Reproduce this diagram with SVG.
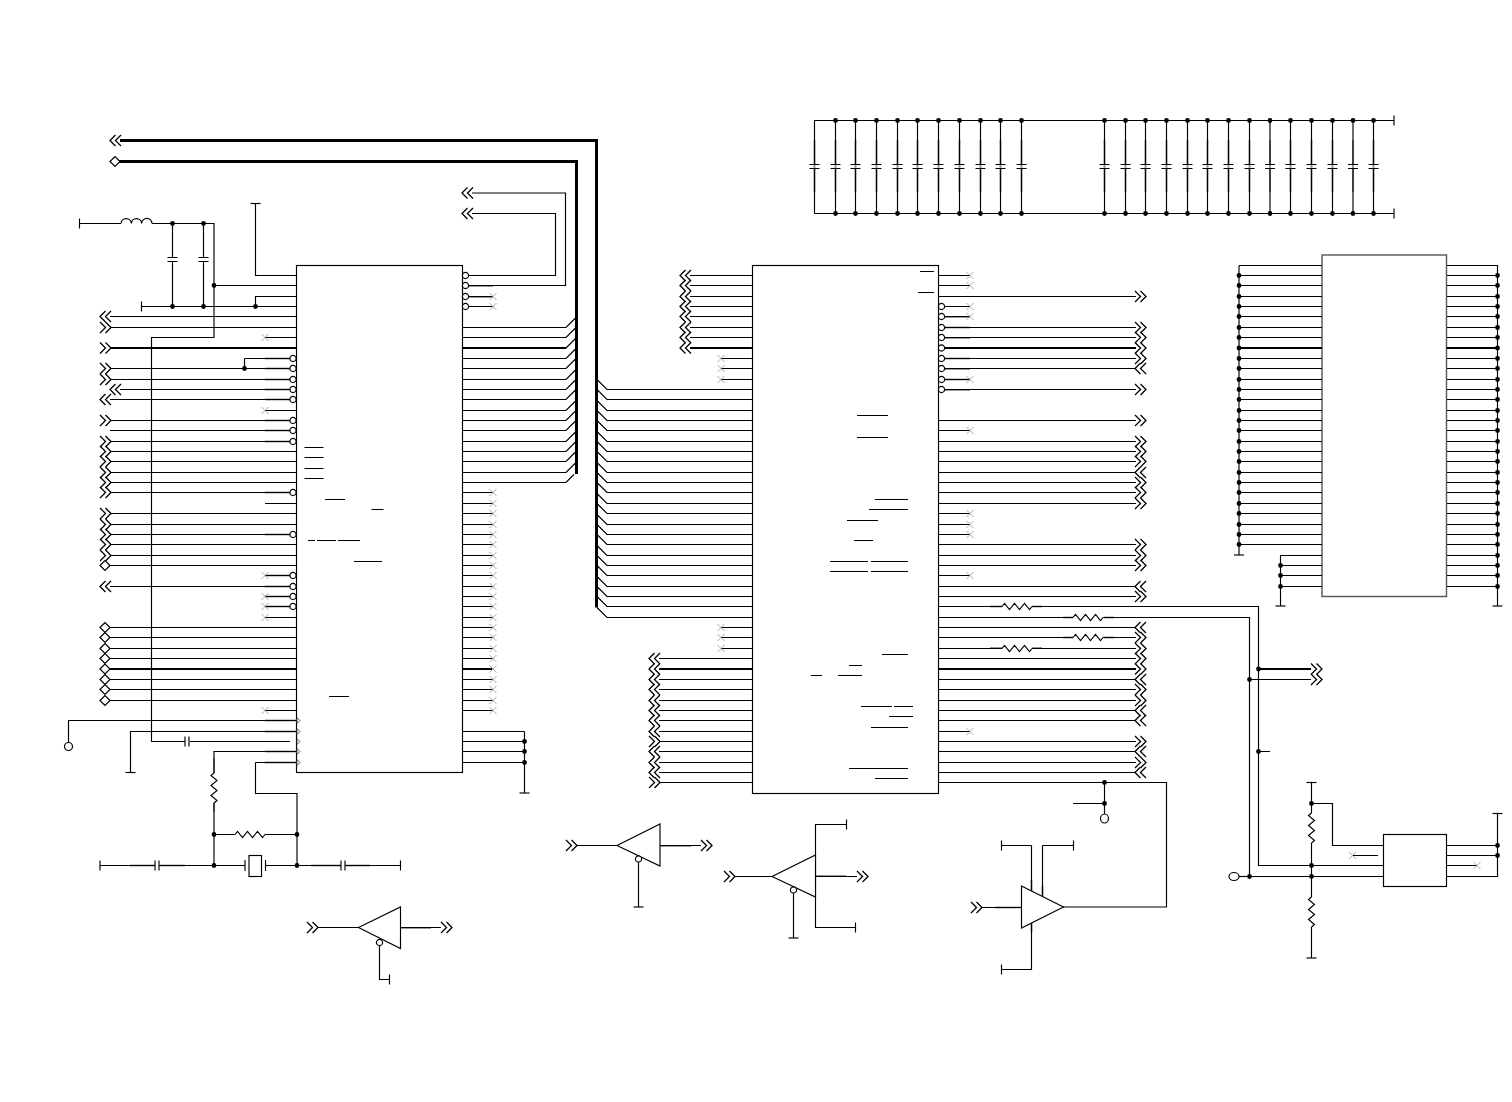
<svg xmlns="http://www.w3.org/2000/svg" width="1512" height="1102" viewBox="0 0 1512 1102">
<style>
path,rect,circle,ellipse{fill:none;stroke:#000;stroke-width:1.15}
.thick{stroke-width:2.2}
.bus{stroke-width:3}
.stub{stroke:#999;stroke-width:2}
.dots{stroke-width:4.8;stroke-linecap:round}
.box{fill:#fff}
.mem{fill:#fff;stroke:#555;stroke-width:1.4}
.x{stroke:#aaa;stroke-width:1}
.pin{fill:#fff;stroke:#000;stroke-width:1.2}
.tri{fill:#fff;stroke:#333;stroke-width:.8}
.chev{stroke-width:1.3}
</style>
<defs>
<path id="R" class="chev" d="M0-5.500 5.500 0 0 5.500M5.500-5.500 11 0 5.500 5.500"/>
<path id="L" class="chev" d="M5.500-5.500 0 0 5.500 5.500M11-5.500 5.500 0 11 5.500"/>
<path id="D" class="pin" d="M0 0 5-5 10 0 5 5Z"/>
<path id="X" class="x" d="M-3.500-3.500 3.500 3.500M-3.500 3.500 3.500-3.500"/>
<circle id="O" class="pin" r="3.100"/>
<path id="T" class="tri" d="M0-3 3 0 0 3Z"/>
<path id="RH" d="M0 0 2.500-3 7.500 3 12.500-3 17.500 3 22.500-3 27.500 3 30 0"/>
<path id="RV" d="M0 0-3 2.500 3 7.500-3 12.500 3 17.500-3 22.500 3 27.500 0 30"/>
<path id="CV" d="M-5 0H5M-5 4H5"/>
<path id="CH" d="M0-5V5M4-5V5"/>
<path id="TV" d="M0-5V5"/>
<path id="TH" d="M-5 0H5"/>
</defs>

<g id="ic-left"><rect class="box" x="296.500" y="265.500" width="166" height="507"/>
<path d="M304.500 447.500H323.500M304.500 457.500H323.500M304.500 468.500H323.500M304.500 478.500H323.500M325 499.500H345M371.500 509.500H383.500M308 540.500H315M317 540.500H336M338 540.500H360M354 561.500H382M329 696.500H349"/></g>
<g id="ic-right"><rect class="box" x="752.500" y="265.500" width="186" height="528"/>
<path d="M920 271.500H934M918 292.500H934M857 415.500H888M857 437.500H888M875 499.500H908M869 509.500H908M847 520.500H878M854 540.500H873M830 561.500H868M871 561.500H908M830 571.500H868M871 571.500H908M882 654.500H908M849 665.500H862M811 675.500H822M838 675.500H862M861 706.500H892M894 706.500H913M889 716.500H913M871 727.500H908M849 768.500H908M875 778.500H908"/></g>
<g id="ic-memory"><rect class="mem" x="1322" y="255" width="124.500" height="341.500"/></g>
<g id="ic-small"><rect class="box" x="1383.500" y="834.500" width="63" height="52"/></g>

<g id="connectors">
<path class="stub" d="M265 358.500H290M265 368.500H290M265 379.500H290M265 389.500H290M265 399.500H290M265 420.500H290M265 430.500H290M265 441.500H290M265 492.500H290M265 534.500H290M265 575.500H290M265 586.500H290M265 596.500H290M265 606.500H290M265 720.500H297M265 731.500H297M265 751.500H297M265 762.500H297M468 286H493M468 297H493M945 317H970M945 327.500H970M945 338H970M945 358.500H970M945 369H970M945 379.500H970M945 390H970M1063 617.500H1073M1104 617.500H1114M1063 637.500H1073M1104 637.500H1114M990 606.500H1002M1032 606.500H1042M990 648H1002M1032 648H1042"/>
<path class="stub" d="M400.500 928H431M660 846H691M815.500 876H846M995 907.500H1021M1031.500 880V892M1042.500 886V898M1031.500 922V932M214 758V773M214 803V812M130 865.500H155M160 865.500H185M311 865.500H341M346 865.500H370"/>
<path class="stub" d="M814.500 140V192M835.500 140V192M855.500 140V192M876.500 140V192M897.500 140V192M917.500 140V192M938.500 140V192M959.500 140V192M980.500 140V192M1000.500 140V192M1021.500 140V192M1104.500 140V192M1125.500 140V192M1145.500 140V192M1166.500 140V192M1187.500 140V192M1207.500 140V192M1228.500 140V192M1249.500 140V192M1270 140V192M1290.500 140V192M1311.500 140V192M1332.500 140V192M1353 140V192M1373.500 140V192"/>

<path class="bus" d="M120 140.500H596.500V607.500M118 161.500H576.500V474"/>
<path class="thick" d="M110 348H296M110 669H296M463 348H566M463 669H493M690 348H752M659 669H752M970 348H1136M945 348H970M938.500 669H1136M1239 348H1322M1446.500 348H1497.500M1259 669H1311"/>

<!-- filter network and supply -->
<path d="M79.500 223.500H121M152 223.500H214V337.500H151.500V741.500H185M190 741.500H290M172.500 223.500V257.500M172.500 262V306.500M203.500 223.500V257.500M203.500 262V306.500M141.500 306.500H296M214 285.500H296M255.500 203.500V275.500H296M255.500 306.500V296.500H296"/>
<path d="M121 223.500a5.170 5.170 0 0 1 10.330 0a5.170 5.170 0 0 1 10.330 0a5.170 5.170 0 0 1 10.340 0"/>

<!-- left IC, left side -->
<path d="M110 316.500H296M110 327.500H296M265 337.500H296M244.500 358.500H290M244.500 358.500V368.500M110 368.500H290M110 379.500H290M120 389.500H290M110 399.500H290M265 410.500H296M110 420.500H290M110 430.500H290M110 441.500H290M110 451.500H296M110 461.500H296M110 472.500H296M110 482.500H296M110 492.500H290M265 503.500H296M110 513.500H296M110 524.500H296M110 534.500H290M110 544.500H296M110 555.500H296M110 565.500H296M265 575.500H290M110 586.500H290M265 596.500H290M265 606.500H290M265 617.500H296M110 627.500H296M110 637.500H296M110 648.500H296M110 658.500H296M110 679.500H296M110 689.500H296M110 700.500H296M265 710.500H296"/>
<path d="M68.500 742V720.500H297M130.500 772.500V731.500H297M214 865.500V803M214 773V751.500H297M255.500 762.500H297M255.500 762.500V793.500H297V865.500M214 834.500H235M265 834.500H297"/>

<!-- left IC, right side -->
<path d="M468 275.500H555.500V213.500H472M468 285.500H565.500V193H472M468 296.500H493M468 306.500H493"/>
<path d="M463 327.500H566l10-10M463 337.500H566l10-10M566 348l10-10M463 358.500H566l10-10M463 368.500H566l10-10M463 379.500H566l10-10M463 389.500H566l10-10M463 399.500H566l10-10M463 410.500H566l10-10M463 420.500H566l10-10M463 430.500H566l10-10M463 441.500H566l10-10M463 451.500H566l10-10M463 461.500H566l10-10M463 472.500H566l10-10M463 482.500H566l8-8"/>
<path d="M463 492.500H493M463 503.500H493M463 513.500H493M463 524.500H493M463 534.500H493M463 544.500H493M463 555.500H493M463 565.500H493M463 575.500H493M463 586.500H493M463 596.500H493M463 606.500H493M463 617.500H493M463 627.500H493M463 637.500H493M463 648.500H493M463 658.500H493M463 679.500H493M463 689.500H493M463 700.500H493M463 710.500H493"/>
<path d="M463 731.500H524.500M463 741.500H524.500M463 751.500H524.500M463 762.500H524.500M524.500 731.500V793"/>

<!-- right IC, left side -->
<path d="M690 275.500H752M690 285.500H752M690 296.500H752M690 306.500H752M690 316.500H752M690 327.500H752M690 337.500H752M721 358.500H752M721 368.500H752M721 379.500H752"/>
<path d="M597 379.500l10 10H752M597 389.500l10 10H752M597 400.500l10 10H752M597 410.500l10 10H752M597 420.500l10 10H752M597 431.500l10 10H752M597 441.500l10 10H752M597 451.500l10 10H752M597 462.500l10 10H752M597 472.500l10 10H752M597 482.500l10 10H752M597 493.500l10 10H752M597 503.500l10 10H752M597 514.500l10 10H752M597 524.500l10 10H752M597 534.500l10 10H752M597 545.500l10 10H752M597 555.500l10 10H752M597 565.500l10 10H752M597 576.500l10 10H752M597 586.500l10 10H752M597 596.500l10 10H752M597 607.500l10 10H752"/>
<path d="M721 627.500H752M721 637.500H752M721 648.500H752M659 658.500H752M659 679.500H752M659 689.500H752M659 700.500H752M659 710.500H752M659 720.500H752M659 731.500H752M659 741.500H752M659 751.500H752M659 762.500H752M659 772.500H752M659 782.500H752"/>

<!-- right IC, right side -->
<path d="M939 275.500H970M939 285.500H970M939 296.500H1136M945 306.500H970M945 316.500H970M945 327.500H1136M945 337.500H1136M945 358.500H1136M945 368.500H1136M945 379.500H970M945 389.500H1136M939 420.500H1136M939 430.500H970M939 441.500H1136M939 451.500H1136M939 461.500H1136M939 472.500H1136M939 482.500H1136M939 492.500H1136M939 503.500H1136M939 513.500H970M939 524.500H970M939 534.500H970M939 544.500H1136M939 555.500H1136M939 565.500H1136M939 575.500H970M939 586.500H1136M939 596.500H1136"/>
<path d="M939 606.500H1002M1032 606.500H1258.500V865.500H1383M939 617.500H1073M1103 617.500H1249.500V876.500M1239 876.500H1383M939 627.500H1136M939 637.500H1073M1103 637.500H1136M939 648.500H1002M1032 648.500H1136M939 658.500H1136M939 679.500H1136M939 689.500H1136M939 700.500H1136M939 710.500H1136M939 720.500H1136M939 731.500H970M939 741.500H1136M939 751.500H1136M939 762.500H1136M939 772.500H1136M939 782.500H1166.500V907H1063M1104.500 782.500V814M1073 803.500H1104.500"/>
<path d="M1249.500 679.500H1311M1258.500 751.500H1270"/>

<!-- memory -->
<path d="M1239 265.500H1322M1239 265.500V555M1239 275.500H1322M1239 285.500H1322M1239 296.500H1322M1239 306.500H1322M1239 316.500H1322M1239 327.500H1322M1239 337.500H1322M1239 358.500H1322M1239 368.500H1322M1239 379.500H1322M1239 389.500H1322M1239 399.500H1322M1239 410.500H1322M1239 420.500H1322M1239 430.500H1322M1239 441.500H1322M1239 451.500H1322M1239 461.500H1322M1239 472.500H1322M1239 482.500H1322M1239 492.500H1322M1239 503.500H1322M1239 513.500H1322M1239 524.500H1322M1239 534.500H1322M1239 544.500H1322M1280.500 555.500H1322M1280.500 555.500V606M1280.500 565.500H1322M1280.500 575.500H1322M1280.500 586.500H1322"/>
<path d="M1447 265.500H1497.500V606M1447 275.500H1497M1447 285.500H1497M1447 296.500H1497M1447 306.500H1497M1447 316.500H1497M1447 327.500H1497M1447 337.500H1497M1447 358.500H1497M1447 368.500H1497M1447 379.500H1497M1447 389.500H1497M1447 399.500H1497M1447 410.500H1497M1447 420.500H1497M1447 430.500H1497M1447 441.500H1497M1447 451.500H1497M1447 461.500H1497M1447 472.500H1497M1447 482.500H1497M1447 492.500H1497M1447 503.500H1497M1447 513.500H1497M1447 524.500H1497M1447 534.500H1497M1447 544.500H1497M1447 555.500H1497M1447 565.500H1497M1447 575.500H1497M1447 586.500H1497"/>

<!-- small IC -->
<path d="M1311.500 782.500V813M1311.500 843V897M1311.500 927V958M1311.500 803.500H1332.500V845.500H1383M1352.500 855.500H1378M1447 845.500H1497.500M1447 855.500H1497.500M1447 865.500H1477M1447 876.500H1497.500V813.500"/>

<!-- decoupling rails -->
<path d="M814.500 120.500H1394M814.500 213.500H1394"/>
<path d="M814.500 120.500V164.500M814.500 168.500V213.500M835.500 120.500V164.500M835.500 168.500V213.500M855.500 120.500V164.500M855.500 168.500V213.500M876.500 120.500V164.500M876.500 168.500V213.500M897.500 120.500V164.500M897.500 168.500V213.500M917.500 120.500V164.500M917.500 168.500V213.500M938.500 120.500V164.500M938.500 168.500V213.500M959.500 120.500V164.500M959.500 168.500V213.500M980.500 120.500V164.500M980.500 168.500V213.500M1000.500 120.500V164.500M1000.500 168.500V213.500M1021.500 120.500V164.500M1021.500 168.500V213.500M1104.500 120.500V164.500M1104.500 168.500V213.500M1125.500 120.500V164.500M1125.500 168.500V213.500M1145.500 120.500V164.500M1145.500 168.500V213.500M1166.500 120.500V164.500M1166.500 168.500V213.500M1187.500 120.500V164.500M1187.500 168.500V213.500M1207.500 120.500V164.500M1207.500 168.500V213.500M1228.500 120.500V164.500M1228.500 168.500V213.500M1249.500 120.500V164.500M1249.500 168.500V213.500M1270 120.500V164.500M1270 168.500V213.500M1290.500 120.500V164.500M1290.500 168.500V213.500M1311.500 120.500V164.500M1311.500 168.500V213.500M1332.500 120.500V164.500M1332.500 168.500V213.500M1353 120.500V164.500M1353 168.500V213.500M1373.500 120.500V164.500M1373.500 168.500V213.500"/>

<!-- oscillator -->
<path d="M100 865.500H155M159 865.500H245M265.500 865.500H341M345 865.500H400.500"/>

<!-- buffers -->
<path d="M317 927.500H358.500M400.500 927.500H441M379.500 945.500V979.500H389.500"/>
<path d="M576 845.500H617M660 845.500H701M638.500 862.500V907"/>
<path d="M734 876.500H772M815 876.500H857M793.500 893.500V938M846.500 824.500H815.500V927.500H855.500"/>
<path d="M981 907.500H1021M1031.500 845.500H1001.500M1031.500 845.500V892M1042.500 845.500H1073.500M1042.500 845.500V898M1031.500 922V969.500H1001.500"/>

<!-- connection dots -->
<path class="dots" d="M172.500 223.500h0M203.500 223.500h0M214 285.500h0M172.500 306.500h0M203.500 306.500h0M255.500 306.500h0M244.500 368.500h0M214 834.500h0M297 834.500h0M214 865.500h0M297 865.500h0M524.500 741.500h0M524.500 751.500h0M524.500 762.500h0M1104.500 782.500h0M1104.500 803.500h0M1258.500 669h0M1249.500 679.500h0M1258.500 751.500h0M1311.500 803.500h0M1311.500 865.500h0M1249.500 876.500h0M1311.500 876.500h0M1497.500 845.500h0M1497.500 855.500h0
M835.500 120.500h0M855.500 120.500h0M876.500 120.500h0M897.500 120.500h0M917.500 120.500h0M938.500 120.500h0M959.500 120.500h0M980.500 120.500h0M1000.500 120.500h0M1021.500 120.500h0M1104.500 120.500h0M1125.500 120.500h0M1145.500 120.500h0M1166.500 120.500h0M1187.500 120.500h0M1207.500 120.500h0M1228.500 120.500h0M1249.500 120.500h0M1270 120.500h0M1290.500 120.500h0M1311.500 120.500h0M1332.500 120.500h0M1353 120.500h0M1373.500 120.500h0
M835.500 213.500h0M855.500 213.500h0M876.500 213.500h0M897.500 213.500h0M917.500 213.500h0M938.500 213.500h0M959.500 213.500h0M980.500 213.500h0M1000.500 213.500h0M1021.500 213.500h0M1104.500 213.500h0M1125.500 213.500h0M1145.500 213.500h0M1166.500 213.500h0M1187.500 213.500h0M1207.500 213.500h0M1228.500 213.500h0M1249.500 213.500h0M1270 213.500h0M1290.500 213.500h0M1311.500 213.500h0M1332.500 213.500h0M1353 213.500h0M1373.500 213.500h0
M1239 275.500h0M1239 285.500h0M1239 296.500h0M1239 306.500h0M1239 316.500h0M1239 327.500h0M1239 337.500h0M1239 348h0M1239 358.500h0M1239 368.500h0M1239 379.500h0M1239 389.500h0M1239 399.500h0M1239 410.500h0M1239 420.500h0M1239 430.500h0M1239 441.500h0M1239 451.500h0M1239 461.500h0M1239 472.500h0M1239 482.500h0M1239 492.500h0M1239 503.500h0M1239 513.500h0M1239 524.500h0M1239 534.500h0M1239 544.500h0M1280.500 565.500h0M1280.500 575.500h0M1280.500 586.500h0
M1497.500 275.500h0M1497.500 285.500h0M1497.500 296.500h0M1497.500 306.500h0M1497.500 316.500h0M1497.500 327.500h0M1497.500 337.500h0M1497.500 348h0M1497.500 358.500h0M1497.500 368.500h0M1497.500 379.500h0M1497.500 389.500h0M1497.500 399.500h0M1497.500 410.500h0M1497.500 420.500h0M1497.500 430.500h0M1497.500 441.500h0M1497.500 451.500h0M1497.500 461.500h0M1497.500 472.500h0M1497.500 482.500h0M1497.500 492.500h0M1497.500 503.500h0M1497.500 513.500h0M1497.500 524.500h0M1497.500 534.500h0M1497.500 544.500h0M1497.500 555.500h0M1497.500 565.500h0M1497.500 575.500h0M1497.500 586.500h0"/>
</g>

<g id="terminals">
<use href="#L" x="110" y="140.500"/><use href="#D" x="110" y="161.500"/>
<use href="#L" x="462" y="193"/><use href="#L" x="462" y="213.500"/>
<use href="#L" x="100" y="316.500"/><use href="#R" x="100" y="327.500"/><use href="#R" x="100" y="348"/><use href="#R" x="100" y="368.500"/><use href="#R" x="100" y="379.500"/><use href="#L" x="110" y="389.500"/><use href="#L" x="100" y="399.500"/><use href="#R" x="100" y="420.500"/><use href="#R" x="100" y="441.500"/><use href="#R" x="100" y="451.500"/><use href="#R" x="100" y="461.500"/><use href="#R" x="100" y="472.500"/><use href="#R" x="100" y="482.500"/><use href="#R" x="100" y="492.500"/><use href="#R" x="100" y="513.500"/><use href="#R" x="100" y="524.500"/><use href="#R" x="100" y="534.500"/><use href="#R" x="100" y="544.500"/><use href="#R" x="100" y="555.500"/><use href="#D" x="100" y="565.500"/><use href="#L" x="100" y="586.500"/>
<use href="#D" x="100" y="627.500"/><use href="#D" x="100" y="637.500"/><use href="#D" x="100" y="648.500"/><use href="#D" x="100" y="658.500"/><use href="#D" x="100" y="669"/><use href="#D" x="100" y="679.500"/><use href="#D" x="100" y="689.500"/><use href="#D" x="100" y="700.500"/>

<use href="#L" x="680" y="275.500"/><use href="#L" x="680" y="285.500"/><use href="#L" x="680" y="296.500"/><use href="#L" x="680" y="306.500"/><use href="#L" x="680" y="316.500"/><use href="#L" x="680" y="327.500"/><use href="#L" x="680" y="337.500"/><use href="#L" x="680" y="348"/>
<use href="#L" x="649" y="658.500"/><use href="#L" x="649" y="669"/><use href="#L" x="649" y="679.500"/><use href="#L" x="649" y="689.500"/><use href="#L" x="649" y="700.500"/><use href="#L" x="649" y="710.500"/><use href="#L" x="649" y="720.500"/><use href="#L" x="649" y="731.500"/><use href="#R" x="649" y="741.500"/><use href="#L" x="649" y="751.500"/><use href="#L" x="649" y="762.500"/><use href="#L" x="649" y="772.500"/><use href="#R" x="649" y="782.500"/>

<use href="#R" x="1135" y="296.500"/><use href="#R" x="1135" y="327.500"/><use href="#R" x="1135" y="337.500"/><use href="#R" x="1135" y="348"/><use href="#R" x="1135" y="358.500"/><use href="#L" x="1135" y="368.500"/><use href="#R" x="1135" y="389.500"/><use href="#R" x="1135" y="420.500"/><use href="#R" x="1135" y="441.500"/><use href="#R" x="1135" y="451.500"/><use href="#R" x="1135" y="461.500"/><use href="#L" x="1135" y="472.500"/><use href="#R" x="1135" y="482.500"/><use href="#R" x="1135" y="492.500"/><use href="#R" x="1135" y="503.500"/><use href="#R" x="1135" y="544.500"/><use href="#R" x="1135" y="555.500"/><use href="#R" x="1135" y="565.500"/><use href="#L" x="1135" y="586.500"/><use href="#R" x="1135" y="596.500"/><use href="#L" x="1135" y="627.500"/><use href="#R" x="1135" y="637.500"/><use href="#R" x="1135" y="648.500"/><use href="#R" x="1135" y="658.500"/><use href="#R" x="1135" y="669"/><use href="#L" x="1135" y="679.500"/><use href="#R" x="1135" y="689.500"/><use href="#R" x="1135" y="700.500"/><use href="#L" x="1135" y="710.500"/><use href="#L" x="1135" y="720.500"/><use href="#R" x="1135" y="741.500"/><use href="#L" x="1135" y="751.500"/><use href="#R" x="1135" y="762.500"/><use href="#L" x="1135" y="772.500"/>
<use href="#R" x="1311" y="669"/><use href="#R" x="1311" y="679.500"/>
<use href="#R" x="307" y="927.500"/><use href="#R" x="441" y="927.500"/><use href="#R" x="566" y="845.500"/><use href="#R" x="701" y="845.500"/><use href="#R" x="724" y="876.500"/><use href="#R" x="857" y="876.500"/><use href="#R" x="971" y="907.500"/>
</g>

<g id="no-connects">
<use href="#X" x="265" y="337.500"/><use href="#X" x="265" y="410.500"/><use href="#X" x="265" y="575.500"/><use href="#X" x="265" y="596.500"/><use href="#X" x="265" y="606.500"/><use href="#X" x="265" y="617.500"/><use href="#X" x="265" y="710.500"/>
<use href="#X" x="493" y="296.500"/><use href="#X" x="493" y="306.500"/>
<use href="#X" x="493" y="492.500"/><use href="#X" x="493" y="503.500"/><use href="#X" x="493" y="513.500"/><use href="#X" x="493" y="524.500"/><use href="#X" x="493" y="534.500"/><use href="#X" x="493" y="544.500"/><use href="#X" x="493" y="555.500"/><use href="#X" x="493" y="565.500"/><use href="#X" x="493" y="575.500"/><use href="#X" x="493" y="586.500"/><use href="#X" x="493" y="596.500"/><use href="#X" x="493" y="606.500"/><use href="#X" x="493" y="617.500"/><use href="#X" x="493" y="627.500"/><use href="#X" x="493" y="637.500"/><use href="#X" x="493" y="648.500"/><use href="#X" x="493" y="658.500"/><use href="#X" x="493" y="669"/><use href="#X" x="493" y="679.500"/><use href="#X" x="493" y="689.500"/><use href="#X" x="493" y="700.500"/><use href="#X" x="493" y="710.500"/>
<use href="#X" x="721" y="358.500"/><use href="#X" x="721" y="368.500"/><use href="#X" x="721" y="379.500"/><use href="#X" x="721" y="627.500"/><use href="#X" x="721" y="637.500"/><use href="#X" x="721" y="648.500"/>
<use href="#X" x="970" y="275.500"/><use href="#X" x="970" y="285.500"/><use href="#X" x="970" y="306.500"/><use href="#X" x="970" y="316.500"/><use href="#X" x="970" y="379.500"/><use href="#X" x="970" y="430.500"/><use href="#X" x="970" y="513.500"/><use href="#X" x="970" y="524.500"/><use href="#X" x="970" y="534.500"/><use href="#X" x="970" y="575.500"/><use href="#X" x="970" y="731.500"/>
<use href="#X" x="1352.500" y="855.500"/><use href="#X" x="1477" y="865.500"/>
</g>

<g id="pin-bubbles">
<use href="#O" x="293" y="358.500"/><use href="#O" x="293" y="368.500"/><use href="#O" x="293" y="379.500"/><use href="#O" x="293" y="389.500"/><use href="#O" x="293" y="399.500"/><use href="#O" x="293" y="420.500"/><use href="#O" x="293" y="430.500"/><use href="#O" x="293" y="441.500"/><use href="#O" x="293" y="492.500"/><use href="#O" x="293" y="534.500"/><use href="#O" x="293" y="575.500"/><use href="#O" x="293" y="586.500"/><use href="#O" x="293" y="596.500"/><use href="#O" x="293" y="606.500"/>
<use href="#O" x="465.500" y="275.500"/><use href="#O" x="465.500" y="285.500"/><use href="#O" x="465.500" y="296.500"/><use href="#O" x="465.500" y="306.500"/>
<use href="#O" x="941.500" y="306.500"/><use href="#O" x="941.500" y="316.500"/><use href="#O" x="941.500" y="327.500"/><use href="#O" x="941.500" y="337.500"/><use href="#O" x="941.500" y="348"/><use href="#O" x="941.500" y="358.500"/><use href="#O" x="941.500" y="368.500"/><use href="#O" x="941.500" y="379.500"/><use href="#O" x="941.500" y="389.500"/>
<use href="#T" x="297" y="720.500"/><use href="#T" x="297" y="731.500"/><use href="#T" x="297" y="741.500"/><use href="#T" x="297" y="751.500"/><use href="#T" x="297" y="762.500"/>
</g>

<g id="tees">
<use href="#TV" x="79.500" y="223.500"/><use href="#TH" x="255.500" y="203.500"/><use href="#TV" x="141.500" y="306.500"/><use href="#TH" x="130.500" y="772.500"/><use href="#TH" x="524.500" y="793"/>
<use href="#TV" x="100" y="865.500"/><use href="#TV" x="400.500" y="865.500"/>
<use href="#TV" x="389.500" y="979.500"/><use href="#TH" x="638.500" y="907"/><use href="#TH" x="793.500" y="938"/><use href="#TV" x="846.500" y="824.500"/><use href="#TV" x="855.500" y="927.500"/>
<use href="#TV" x="1001.500" y="845.500"/><use href="#TV" x="1073.500" y="845.500"/><use href="#TV" x="1001.500" y="969.500"/>
<use href="#TV" x="1394" y="120.500"/><use href="#TV" x="1394" y="213.500"/>
<use href="#TH" x="1239" y="555"/><use href="#TH" x="1280.500" y="606"/><use href="#TH" x="1497.500" y="606"/>
<use href="#TH" x="1311.500" y="782.500"/><use href="#TH" x="1311.500" y="958"/><use href="#TH" x="1497.500" y="813.500"/>
</g>

<g id="capacitors">
<use href="#CV" x="172.500" y="257.500"/><use href="#CV" x="203.500" y="257.500"/><use href="#CH" x="185" y="741.500"/><use href="#CH" x="155" y="865.500"/><use href="#CH" x="341" y="865.500"/>
<use href="#CV" x="814.500" y="164.500"/><use href="#CV" x="835.500" y="164.500"/><use href="#CV" x="855.500" y="164.500"/><use href="#CV" x="876.500" y="164.500"/><use href="#CV" x="897.500" y="164.500"/><use href="#CV" x="917.500" y="164.500"/><use href="#CV" x="938.500" y="164.500"/><use href="#CV" x="959.500" y="164.500"/><use href="#CV" x="980.500" y="164.500"/><use href="#CV" x="1000.500" y="164.500"/><use href="#CV" x="1021.500" y="164.500"/>
<use href="#CV" x="1104.500" y="164.500"/><use href="#CV" x="1125.500" y="164.500"/><use href="#CV" x="1145.500" y="164.500"/><use href="#CV" x="1166.500" y="164.500"/><use href="#CV" x="1187.500" y="164.500"/><use href="#CV" x="1207.500" y="164.500"/><use href="#CV" x="1228.500" y="164.500"/><use href="#CV" x="1249.500" y="164.500"/><use href="#CV" x="1270" y="164.500"/><use href="#CV" x="1290.500" y="164.500"/><use href="#CV" x="1311.500" y="164.500"/><use href="#CV" x="1332.500" y="164.500"/><use href="#CV" x="1353" y="164.500"/><use href="#CV" x="1373.500" y="164.500"/>
</g>

<g id="resistors">
<use href="#RV" x="214" y="773"/><use href="#RH" x="235" y="834.500"/>
<use href="#RH" x="1002" y="606.500"/><use href="#RH" x="1073" y="617.500"/><use href="#RH" x="1073" y="637.500"/><use href="#RH" x="1002" y="648.500"/>
<use href="#RV" x="1311.500" y="813"/><use href="#RV" x="1311.500" y="897"/>
</g>

<g id="crystal">
<path d="M245 860V871M265.500 860V871"/><rect x="249" y="855.500" width="12.500" height="21" stroke="#444"/>
</g>

<g id="buffer-1"><path class="box" d="M358.500 927.500 400.500 907V948.500Z"/><use href="#O" x="379.500" y="942.500"/></g>
<g id="buffer-2"><path class="box" d="M617 845.500 660 824V866Z"/><use href="#O" x="638.500" y="859"/></g>
<g id="buffer-3"><path class="box" d="M772 876.500 815.500 855V897Z"/><use href="#O" x="793.500" y="890"/></g>
<g id="buffer-4"><path class="box" d="M1021.500 886 1063.500 907 1021.500 928Z"/></g>
<g id="probes">
<ellipse class="pin" cx="68.500" cy="746.500" rx="4" ry="4"/>
<ellipse class="pin" cx="1104.500" cy="818.500" rx="4" ry="4.500"/>
<path d="M1239 876.500H1249"/><ellipse class="pin" cx="1234" cy="876.500" rx="5" ry="4"/>
</g>
</svg>
